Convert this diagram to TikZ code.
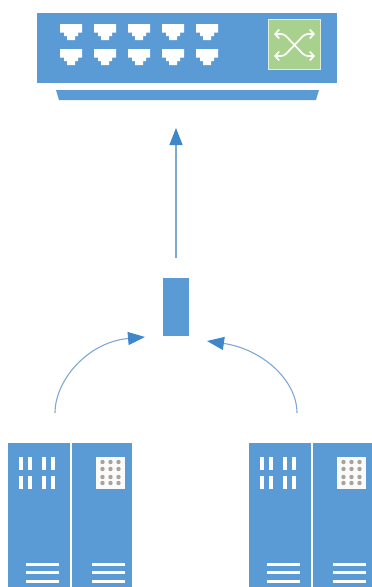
\documentclass[tikz,border=0pt]{standalone}
\usepackage{tikz}
\usetikzlibrary{arrows.meta,calc,positioning}
\definecolor{netblue}{HTML}{5B9BD5}
\definecolor{tipblue}{HTML}{3F87C8}
\definecolor{linkblue}{HTML}{7FA8D2}
\definecolor{netgreen}{HTML}{A9D18E}
\definecolor{dotgrey}{HTML}{A8A29C}

\begin{document}
\begin{tikzpicture}[
  x=1pt, y=-1pt,
  obj/.style={draw=none, fill=netblue, inner sep=0pt, outer sep=0pt, anchor=north west},
  door/.style={obj, minimum width=61.5pt, minimum height=144pt},
  ventbar/.style={fill=white, inner sep=0pt, minimum width=4pt, minimum height=13pt},
  shelf/.style={fill=white, inner sep=0pt, minimum width=33pt, minimum height=3pt},
  gridbox/.style={fill=white!96!gray, inner sep=0pt, minimum width=29pt, minimum height=32pt},
  griddot/.style={circle, fill=dotgrey, inner sep=0pt, minimum size=4.4pt},
  arr/.style={-{Triangle[length=17pt,width=13pt,color=tipblue]}, draw=linkblue, line width=1.3pt},
  swarr/.style={{Straight Barb[length=4pt,width=9pt]}-{Straight Barb[length=4pt,width=9pt]}, draw=white!92!netgreen, line width=1.8pt, rounded corners=3pt}
]
\useasboundingbox (0,0) rectangle (372,587);

% switch
\node[obj, minimum width=300pt, minimum height=70pt] (switch) at (37,13) {};
\node[obj, fill=netgreen, draw=white!65!netgreen, line width=0.7pt, minimum width=52pt, minimum height=50pt] (swicon) at (268.5,19) {};
\fill[netblue] (56,90) -- (319,90) -- (316,100) -- (59,100) -- cycle;
\foreach \px in {71,105,139,173,207} {
  \foreach \py in {24,49} {
    \fill[white] (\px-11,\py) -- ++(22,0) -- ++(0,8.5) -- ++(-4,0) -- ++(0,3.5) -- ++(-3,0)
      -- ++(0,4) -- ++(-8,0) -- ++(0,-4) -- ++(-3,0) -- ++(0,-3.5) -- ++(-4,0) -- cycle;
  }
}
\draw[swarr] (274,34) -- (284,34) -- (305,56) -- (315,56);
\draw[swarr] (274,56) -- (284,56) -- (305,34) -- (315,34);

% uplink box
\node[obj, minimum width=26pt, minimum height=58pt] (uplink) at (163,278) {};

% cabinets
\foreach \cx/\nm in {8/left,249/right} {
  \node[door] (\nm a) at (\cx,443) {};
  \node[door, minimum width=60.5pt] (\nm b) at (\cx+63.5,443) {};
  \foreach \vx in {13.3,22.3,35.7,45} {
    \node[ventbar] at (\cx+\vx,463.5) {};
    \node[ventbar] at (\cx+\vx,482.5) {};
  }
  \node[gridbox] (\nm grid) at (\cx+102.5,473) {};
  \foreach \gx in {-8,0,8} {
    \foreach \gy in {-11,-4,4,10} {
      \node[griddot] at ($(\nm grid)+(\gx,\gy)$) {};
    }
  }
  \foreach \sy in {564,572,581} {
    \node[shelf] at (\cx+34.5,\sy) {};
    \node[shelf] at (\cx+100.5,\sy) {};
  }
}

% links
\coordinate (upfrom) at (176,258);
\coordinate (upto) at (176,128);
\coordinate (leftfrom) at (55,413);
\coordinate (leftto) at (145,337);
\coordinate (rightfrom) at (297,413);
\coordinate (rightto) at (207,341);
\draw[arr] (upfrom) -- (upto);
\draw[arr, line width=1.1pt] (leftfrom) .. controls (55,380) and (88,342) .. (leftto);
\draw[arr, line width=1.1pt] (rightfrom) .. controls (297,380) and (262,349) .. (rightto);
\end{tikzpicture}
\end{document}
